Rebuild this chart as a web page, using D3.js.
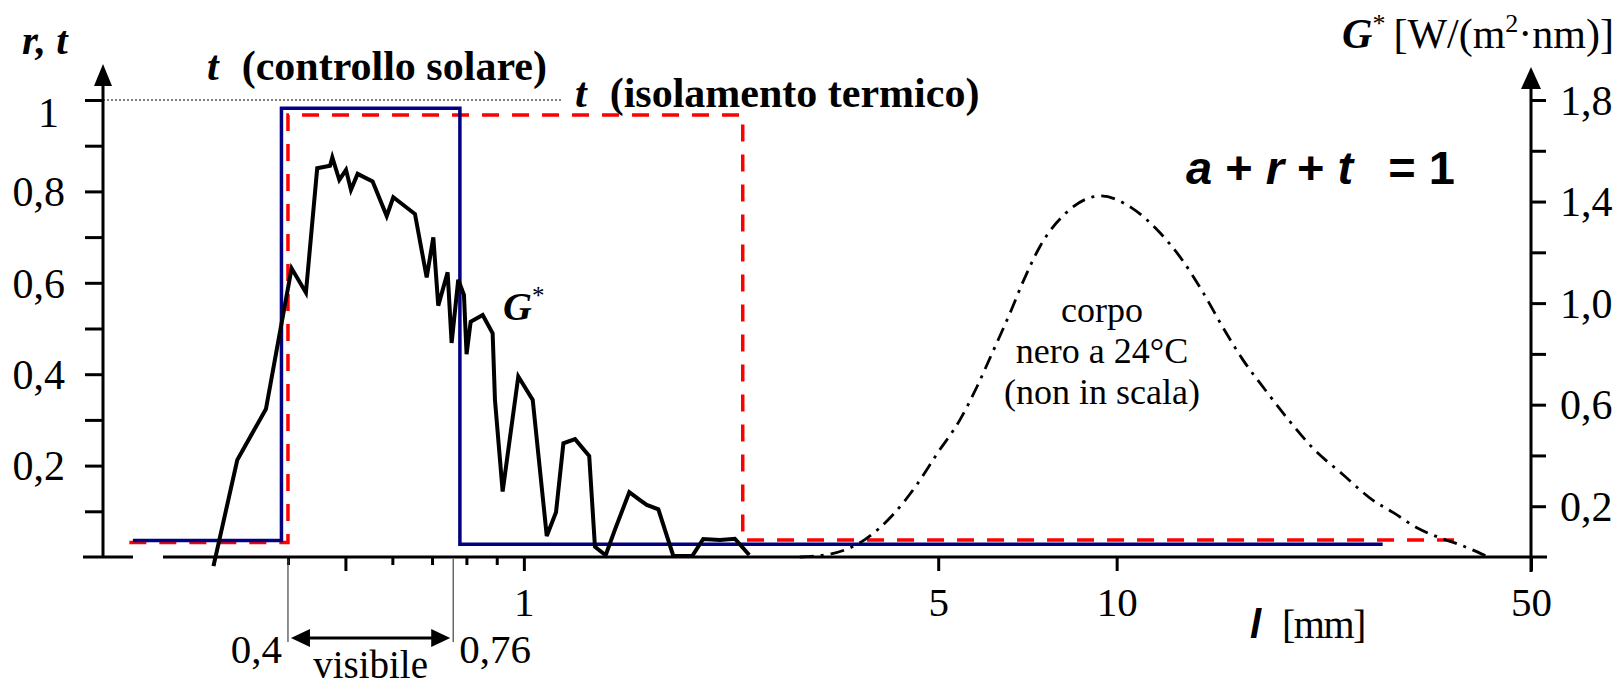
<!DOCTYPE html>
<html>
<head>
<meta charset="utf-8">
<script src="https://cdn.jsdelivr.net/npm/d3@7/dist/d3.min.js"></script>
<style>
  body { margin: 0; background: #fff; }
  svg { display: block; }
  text { font-family: "Liberation Serif", "Times New Roman", serif; fill: #000; }
  .sans { font-family: "Liberation Sans", Arial, sans-serif; }
</style>
</head>
<body>
<svg id="chart" width="1620" height="688"></svg>
<script>
// solar spectrum G* [W/(m2 nm)] (right axis)
var gLambda = [0.2995, 0.3285, 0.3672, 0.3828, 0.4057, 0.4289, 0.4481, 0.471, 0.4752, 0.4883,
  0.5012, 0.5109, 0.5243, 0.5557, 0.587, 0.6022, 0.6551, 0.6856, 0.7035, 0.7171,
  0.7437, 0.7553, 0.775, 0.7924, 0.8005, 0.8133, 0.8522, 0.8858, 0.8938, 0.9209,
  0.9786, 1.035, 1.093, 1.133, 1.166, 1.22, 1.289, 1.318, 1.374, 1.424,
  1.506, 1.57, 1.612, 1.686, 1.787, 1.923, 2.007, 2.142, 2.27, 2.4];
var gValue = [-0.036, 0.382, 0.583, 0.815, 1.137, 1.041, 1.531, 1.541, 1.574, 1.485,
  1.525, 1.446, 1.509, 1.479, 1.343, 1.417, 1.351, 1.101, 1.259, 0.990,
  1.121, 0.843, 1.092, 1.032, 0.799, 0.927, 0.953, 0.881, 0.619, 0.258,
  0.711, 0.619, 0.083, 0.176, 0.448, 0.464, 0.398, 0.040, 0.007, 0.107,
  0.255, 0.224, 0.205, 0.188, 0.004, 0.004, 0.071, 0.067, 0.072, 0.008];

// t, vetro a controllo solare
var solarLambda = [0.219, 0.39, 0.39, 0.78, 0.78, 28.1];
var solarT = [0.036, 0.036, 0.982, 0.982, 0.028, 0.028];

// t, vetro per isolamento termico
var thermLambda = [0.216, 0.40, 0.40, 2.34, 2.34, 37.2];
var thermT = [0.032, 0.032, 0.967, 0.967, 0.037, 0.037];

// corpo nero a 24 C (non in scala, left axis units)
var bbLambda = [2.92, 3.30, 3.76, 4.19, 4.60, 4.99, 5.44, 5.81, 6.18, 6.61,
  6.95, 7.42, 8.2, 9.4, 10.6, 11.8, 12.9, 14.0, 15.1, 16.3,
  17.8, 19.5, 21.4, 24.1, 27.0, 29.3, 32.1, 35.1, 37.9, 41.9];
var bbValue = [0, 0.007, 0.038, 0.092, 0.158, 0.228, 0.30, 0.372, 0.449, 0.534,
  0.602, 0.679, 0.752, 0.79, 0.764, 0.711, 0.65, 0.578, 0.503, 0.433,
  0.366, 0.30, 0.239, 0.18, 0.125, 0.097, 0.064, 0.042, 0.027, 0.003];

var xMajorTicks = [0.5, 1, 5, 10, 50];
var xMinorTicks = [0.3, 0.4, 0.6, 0.7, 0.8, 0.9];
var xLabels = [1, 5, 10, 50];
var leftTicks = [0.1, 0.2, 0.3, 0.4, 0.5, 0.6, 0.7, 0.8, 0.9, 1];
var leftLabels = [0.2, 0.4, 0.6, 0.8, 1];
var rightTicks = [0.2, 0.4, 0.6, 0.8, 1.0, 1.2, 1.4, 1.6, 1.8];
var rightLabels = [0.2, 0.6, 1.0, 1.4, 1.8];
var visibleRange = [0.4, 0.76];

var svg = d3.select("#chart");

var x = d3.scaleLog().domain([0.195, 50]).range([103, 1531]);
var yL = d3.scaleLinear().domain([0, 1]).range([557, 100]);
var yR = d3.scaleLinear().domain([0, 1.8]).range([557, 100]);

function has(arr, d) {
    return arr.some(function (v) { return Math.abs(v - d) < 1e-9; });
}
var serif = '"Liberation Serif", "Times New Roman", serif';

var x0 = x.range()[0], x1 = x.range()[1], y0 = yL(0);

// dotted guide at t = 1
svg.append("line")
    .attr("x1", x0).attr("x2", 563)
    .attr("y1", yL(1)).attr("y2", yL(1))
    .attr("stroke", "#000").attr("stroke-width", 1)
    .attr("stroke-dasharray", "2,2");

// left axis
var gL = svg.append("g")
    .attr("transform", "translate(" + x0 + ",0)")
    .call(d3.axisLeft(yL).tickValues(leftTicks).tickSize(18).tickPadding(20)
        .tickFormat(function (d) {
            if (!has(leftLabels, d)) return "";
            return d === 1 ? "1" : d.toFixed(1).replace(".", ",");
        }));
gL.select(".domain").remove();
gL.selectAll(".tick line").attr("stroke", "#000").attr("stroke-width", 3);
gL.selectAll(".tick text").attr("font-size", 42).style("font-family", serif)
    .attr("dy", function (d) { return d === 1 ? "0.62em" : "0.34em"; })
    .attr("dx", function (d) { return d === 1 ? -6 : 0; });

// right axis
var gR = svg.append("g")
    .attr("transform", "translate(" + x1 + ",0)")
    .call(d3.axisRight(yR).tickValues(rightTicks).tickSize(15).tickPadding(14)
        .tickFormat(function (d) {
            return has(rightLabels, d) ? d.toFixed(1).replace(".", ",") : "";
        }));
gR.select(".domain").remove();
gR.selectAll(".tick line").attr("stroke", "#000").attr("stroke-width", 3);
gR.selectAll(".tick text").attr("font-size", 42).attr("dy", "0.34em").style("font-family", serif);

// bottom axis: major and minor ticks
var gX = svg.append("g")
    .attr("transform", "translate(0," + y0 + ")")
    .call(d3.axisBottom(x).tickValues(xMajorTicks).tickSize(14).tickPadding(16)
        .tickFormat(function (d) { return has(xLabels, d) ? d : ""; }));
gX.select(".domain").remove();
gX.selectAll(".tick line").attr("stroke", "#000").attr("stroke-width", 3);
gX.selectAll(".tick text").attr("font-size", 41).style("font-family", serif);

var gXm = svg.append("g")
    .attr("transform", "translate(0," + y0 + ")")
    .call(d3.axisBottom(x).tickValues(xMinorTicks).tickSize(8).tickFormat(""));
gXm.select(".domain").remove();
gXm.selectAll(".tick line").attr("stroke", "#000").attr("stroke-width", 3);

// axis lines (with the break near the origin) and arrowheads
var axes = svg.append("g").attr("stroke", "#000").attr("stroke-width", 3).attr("fill", "none");
axes.append("line").attr("x1", x0 - 20).attr("x2", x0 + 30).attr("y1", y0).attr("y2", y0);
axes.append("line").attr("x1", x0 + 60).attr("x2", x1 + 16).attr("y1", y0).attr("y2", y0);
axes.append("line").attr("x1", x0).attr("x2", x0).attr("y1", y0).attr("y2", 80);
axes.append("line").attr("x1", x1).attr("x2", x1).attr("y1", y0 + 15).attr("y2", 84);

svg.append("path")
    .attr("d", "M" + (x0 - 9) + ",86L" + x0 + ",64L" + (x0 + 9) + ",86Z")
    .attr("fill", "#000");
svg.append("path")
    .attr("d", "M" + (x1 - 10) + ",89L" + x1 + ",67L" + (x1 + 10) + ",89Z")
    .attr("fill", "#000");

// series
var lineL = d3.line()
    .x(function (d) { return x(d[0]); })
    .y(function (d) { return yL(d[1]); });
var lineR = d3.line()
    .x(function (d) { return x(d[0]); })
    .y(function (d) { return yR(d[1]); });

svg.append("path")
    .datum(d3.zip(thermLambda, thermT))
    .attr("d", lineL)
    .attr("fill", "none").attr("stroke", "#ff0000").attr("stroke-width", 3.5)
    .attr("stroke-dasharray", "17,13");

svg.append("path")
    .datum(d3.zip(solarLambda, solarT))
    .attr("d", lineL)
    .attr("fill", "none").attr("stroke", "#000080").attr("stroke-width", 3.5);

svg.append("path")
    .datum(d3.zip(gLambda, gValue))
    .attr("d", lineR)
    .attr("fill", "none").attr("stroke", "#000").attr("stroke-width", 4)
    .attr("stroke-linejoin", "miter");

svg.append("path")
    .datum(d3.zip(bbLambda, bbValue))
    .attr("d", d3.line().curve(d3.curveMonotoneX)
        .x(function (d) { return x(d[0]); })
        .y(function (d) { return yL(d[1]); }))
    .attr("fill", "none").attr("stroke", "#000").attr("stroke-width", 2.8)
    .attr("stroke-dasharray", "14,7,3,7");

// visible band marker
var vx0 = x(visibleRange[0]), vx1 = x(visibleRange[1]);
svg.selectAll(".vline")
    .data(visibleRange)
    .enter().append("line")
    .attr("x1", function (d) { return x(d); }).attr("x2", function (d) { return x(d); })
    .attr("y1", y0 + 2).attr("y2", 642)
    .attr("stroke", "#444").attr("stroke-width", 1.2);
svg.append("line")
    .attr("x1", vx0 + 18).attr("x2", vx1 - 18).attr("y1", 638).attr("y2", 638)
    .attr("stroke", "#000").attr("stroke-width", 3);
svg.append("path")
    .attr("d", "M" + (vx0 + 3) + ",638L" + (vx0 + 22) + ",629L" + (vx0 + 22) + ",647Z" +
               "M" + (vx1 - 3) + ",638L" + (vx1 - 22) + ",629L" + (vx1 - 22) + ",647Z")
    .attr("fill", "#000");
svg.append("text").attr("x", vx0 - 6).attr("y", 663).attr("text-anchor", "end")
    .attr("font-size", 41).text("0,4");
svg.append("text").attr("x", vx1 + 6).attr("y", 663)
    .attr("font-size", 41).text("0,76");
svg.append("text").attr("x", (vx0 + vx1) / 2).attr("y", 678).attr("text-anchor", "middle")
    .attr("font-size", 39).text("visibile");

// labels
svg.append("text").attr("x", 22).attr("y", 54)
    .attr("font-size", 41).attr("font-weight", "bold").attr("font-style", "italic")
    .text("r, t");

var t1 = svg.append("text").attr("x", 207).attr("y", 80)
    .attr("font-size", 42).attr("font-weight", "bold");
t1.append("tspan").attr("font-style", "italic").text("t");
t1.append("tspan").attr("dx", 23).text("(controllo solare)");

var t2 = svg.append("text").attr("x", 575).attr("y", 107)
    .attr("font-size", 42).attr("font-weight", "bold");
t2.append("tspan").attr("font-style", "italic").text("t");
t2.append("tspan").attr("dx", 23).text("(isolamento termico)");

var gl = svg.append("text").attr("x", 503).attr("y", 320)
    .attr("font-size", 40).attr("font-weight", "bold").attr("font-style", "italic");
gl.append("tspan").text("G");
gl.append("tspan").attr("dy", -16).attr("font-size", 25).attr("font-style", "normal")
    .attr("font-weight", "normal").text("*");

var gt = svg.append("text").attr("x", 1614).attr("y", 48).attr("text-anchor", "end")
    .attr("font-size", 42);
gt.append("tspan").attr("font-weight", "bold").attr("font-style", "italic").text("G");
gt.append("tspan").attr("dy", -16).attr("font-size", 26).text("*");
gt.append("tspan").attr("dy", 16).attr("dx", 8).text("[W/(m");
gt.append("tspan").attr("dy", -16).attr("font-size", 26).text("2");
gt.append("tspan").attr("dy", 16).text("\u00b7nm)]");

var eq = svg.append("text").attr("class", "sans").attr("x", 1186).attr("y", 184)
    .attr("font-size", 47).attr("font-weight", "bold");
eq.append("tspan").attr("font-style", "italic").text("a");
eq.append("tspan").text(" + ");
eq.append("tspan").attr("font-style", "italic").text("r");
eq.append("tspan").text(" + ");
eq.append("tspan").attr("font-style", "italic").text("t");
eq.append("tspan").attr("dx", 22).text(" = 1");

svg.selectAll(".bb")
    .data(["corpo", "nero a 24\u00b0C", "(non in scala)"])
    .enter().append("text")
    .attr("x", 1102).attr("y", function (d, i) { return 322 + i * 41; })
    .attr("text-anchor", "middle").attr("font-size", 36)
    .text(function (d) { return d; });

svg.append("text").attr("class", "sans").attr("x", 1250).attr("y", 638)
    .attr("font-size", 40).attr("font-weight", "bold").attr("font-style", "italic")
    .text("l");
svg.append("text").attr("x", 1282).attr("y", 638)
    .attr("font-size", 40).attr("letter-spacing", -1.5).text("[mm]");
</script>
</body>
</html>
